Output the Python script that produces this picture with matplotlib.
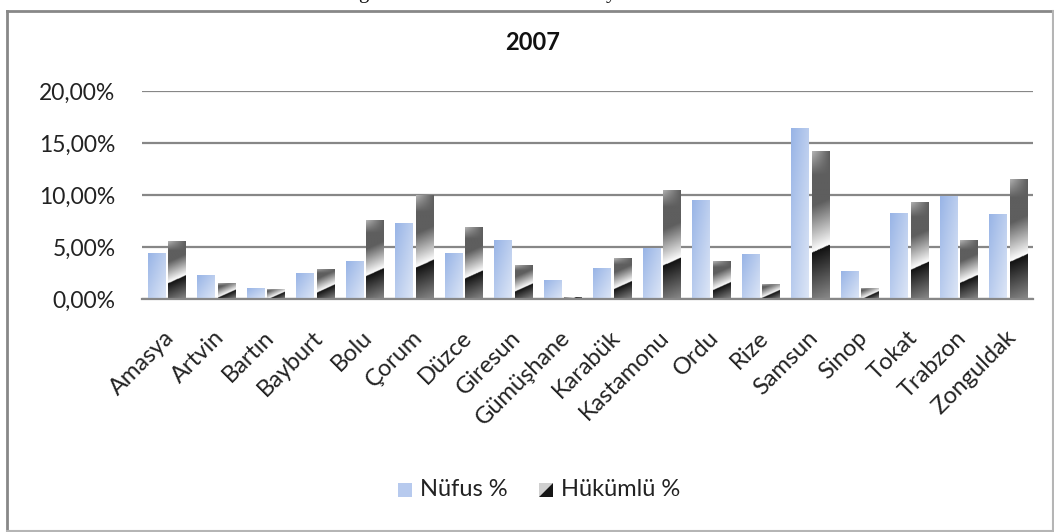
import numpy as np
import matplotlib
matplotlib.use("Agg")
import matplotlib.pyplot as plt
from matplotlib.patches import Rectangle, Polygon
from matplotlib.legend_handler import HandlerBase
from matplotlib.colors import to_rgb
from matplotlib.transforms import ScaledTranslation

# ---- data ----
categories = ["Amasya", "Artvin", "Bartın", "Bayburt", "Bolu", "Çorum", "Düzce",
              "Giresun", "Gümüşhane", "Karabük", "Kastamonu", "Ordu", "Rize",
              "Samsun", "Sinop", "Tokat", "Trabzon", "Zonguldak"]
nufus = [4.39, 2.29, 1.05, 2.48, 3.63, 7.35, 4.39, 5.63, 1.81, 2.96, 4.90, 9.55,
         4.30, 16.43, 2.67, 8.31, 9.93, 8.21]
hukumlu = [5.54, 1.53, 0.96, 2.90, 7.55, 9.96, 6.88, 3.25, 0.19, 3.92, 10.50, 3.63,
           1.43, 14.23, 1.02, 9.36, 5.63, 11.56]
series_names = ["Nüfus %", "Hükümlü %"]
yticks = [0, 5, 10, 15, 20]
ytick_labels = ["0,00%", "5,00%", "10,00%", "15,00%", "20,00%"]
title = "2007"

FONT = ["Lato", "DejaVu Sans"]
plt.rcParams['font.family'] = FONT

W, H = 1054, 532
fig = plt.figure(figsize=(W / 100, H / 100), dpi=100)
ax = fig.add_axes([142 / W, 1 - 299 / H, (1033 - 142) / W, (299 - 91) / H])

x = np.arange(len(categories))
bw = 0.35
off = 0.205
ax.set_xlim(-0.5, len(categories) - 0.5)
ax.set_ylim(0, 20)

px_per_x = (1033 - 142) / len(categories)
px_per_y = (299 - 91) / 20.0

def lerp(c1, c2, t):
    c1 = np.array(to_rgb(c1)); c2 = np.array(to_rgb(c2))
    t = np.clip(t, 0, 1)[..., None]
    return c1 * (1 - t) + c2 * t

def lerp_arr(img, c, t):
    t = np.clip(t, 0, 1)[..., None]
    return img * (1 - t) + c * t

def blue_img(hpx, wpx):
    ny, nx = 120, 30
    u = np.linspace(0, 1, nx)[None, :]
    v = np.linspace(1, 0, ny)[:, None]
    t = 0.5 * u + 0.5 * (1 - v)
    return lerp("#98b4e6", "#dde6f6", t)

def dark_img(hpx, wpx):
    ny, nx = 200, 30
    u = np.linspace(0, wpx, nx)[None, :] * np.ones((ny, 1))
    v = np.linspace(hpx, 0, ny)[:, None] * np.ones((1, nx))
    vs = 0.34 * hpx + 0.45 * (u - wpx / 2)
    d = v - vs
    below = lerp("#111111", "#8a8a8a", (-d) / max(0.34 * hpx + 4, 4))
    above = lerp("#ffffff", "#5e5e5e", d / (0.28 * hpx + 5))
    img = np.where((d < 0)[..., None], below, above)
    wtop = np.clip((v - 0.84 * hpx) / (0.16 * hpx + 1e-9), 0, 1) * (1 - u / wpx)
    img = lerp_arr(img, np.array(to_rgb("#c4c4c4")), wtop * 0.85)
    return img

for vals, dx, maker in [(nufus, -off, blue_img), (hukumlu, off, dark_img)]:
    bars = ax.bar(x + dx, vals, width=bw, color="none", edgecolor="none", zorder=3)
    for b in bars:
        x0, y0 = b.get_x(), b.get_y()
        wd, ht = b.get_width(), b.get_height()
        img = maker(ht * px_per_y, wd * px_per_x)
        im = ax.imshow(img, extent=[x0, x0 + wd, y0, y0 + ht], aspect="auto",
                       interpolation="bilinear", zorder=3)
        im.set_clip_path(b)

ax.set_xlim(-0.5, len(categories) - 0.5)
ax.set_ylim(0, 20)

ax.set_yticks(yticks)
ax.set_yticklabels(ytick_labels)
ax.yaxis.grid(True, color="#878787", linewidth=1.6, zorder=1)
ax.set_axisbelow(True)
for s in ["top", "right", "left"]:
    ax.spines[s].set_visible(False)
ax.spines["bottom"].set_color("#878787")
ax.spines["bottom"].set_linewidth(1.6)
ax.spines["bottom"].set_zorder(4)
ax.tick_params(axis="y", length=0, pad=19, labelsize=16.5, labelcolor="#222222")
ax.tick_params(axis="x", length=0, pad=20, labelsize=17, labelcolor="#222222")
ax.set_xticks(x)
ax.set_xticklabels(categories, rotation=45, ha="right", va="top",
                   rotation_mode="anchor")
shift = ScaledTranslation(-3 / 100, 0, fig.dpi_scale_trans)
for lab in ax.get_xticklabels():
    lab.set_transform(lab.get_transform() + shift)

fig.text(533 / W, 1 - 43 / H, title, ha="center", va="center", fontsize=17,
         fontweight="bold", color="#111111")

class BlueHandler(HandlerBase):
    def create_artists(self, legend, orig, xd, yd, w, h, fs, trans):
        s = min(w, h)
        r = Rectangle((xd + w - s, yd), s, s, facecolor="#b7caee", edgecolor="none",
                      transform=trans)
        return [r]

class DarkHandler(HandlerBase):
    def create_artists(self, legend, orig, xd, yd, w, h, fs, trans):
        s = min(w, h)
        x0 = xd + w - s
        p1 = Polygon([[x0, yd], [x0, yd + s], [x0 + s, yd + s]], closed=True,
                     facecolor="#d0d0d0", edgecolor="none", transform=trans)
        p2 = Polygon([[x0, yd], [x0 + s, yd], [x0 + s, yd + s]], closed=True,
                     facecolor="#161616", edgecolor="none", transform=trans)
        return [p1, p2]

hb = Rectangle((0, 0), 1, 1)
hd = Rectangle((0, 0), 1, 1)
fig.legend([hb, hd], series_names, handler_map={hb: BlueHandler(), hd: DarkHandler()},
           loc="center", bbox_to_anchor=(539 / W, 1 - 490 / H), ncol=2, frameon=False,
           fontsize=17, handlelength=0.6, handleheight=0.6, handletextpad=0.35,
           columnspacing=1.3, labelcolor="#222222")

fig.add_artist(plt.Line2D([7 / W, 7 / W], [1 - 11 / H, 1 - 530.5 / H], color="#888888",
                          linewidth=2, transform=fig.transFigure))
fig.add_artist(plt.Line2D([7 / W, 1053 / W], [1 - 11 / H, 1 - 11 / H], color="#888888",
                          linewidth=2, transform=fig.transFigure))
fig.add_artist(plt.Line2D([7 / W, 1053 / W], [1 - 530.8 / H, 1 - 530.8 / H], color="#b5b5b5",
                          linewidth=1.5, transform=fig.transFigure))
fig.add_artist(plt.Line2D([1053 / W, 1053 / W], [1 - 11 / H, 1 - 530.5 / H], color="#b5b5b5",
                          linewidth=1.5, transform=fig.transFigure))

# caption fragments above the chart, cut off by the image edge as in the reference
for xx, ch in [(363, "g"), (611, "y")]:
    fig.text(xx / W, 1 + 2 / H, ch, ha="center", va="baseline", fontsize=15,
             family=["Liberation Serif", "DejaVu Serif"], color="#111111")

fig.savefig("out.png", dpi=100)
